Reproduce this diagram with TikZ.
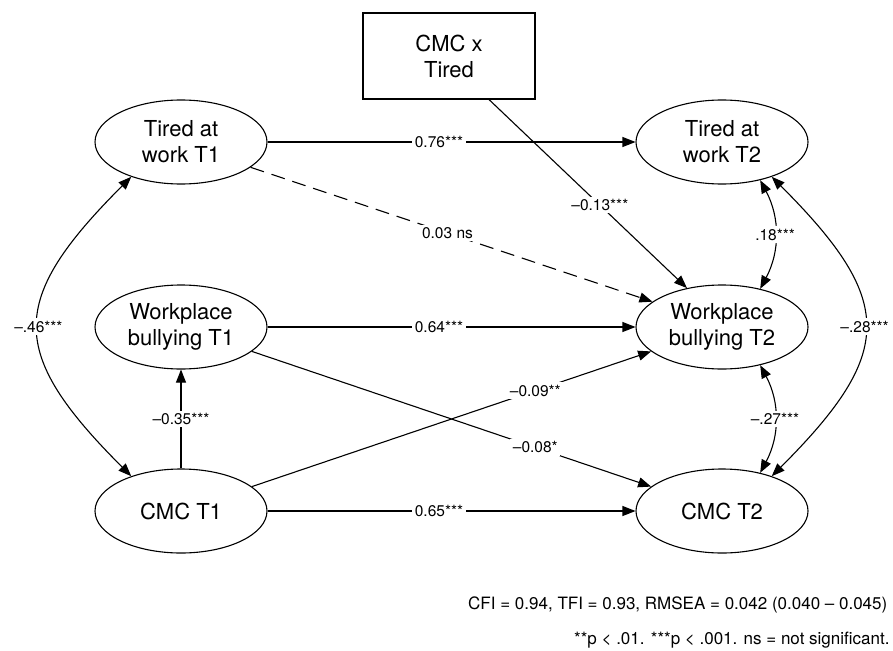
\documentclass[tikz,border=0pt]{standalone}
\usepackage{fontspec}
\setmainfont{TeX Gyre Heros}
\usetikzlibrary{shapes.geometric,arrows.meta}

\begin{document}
\begin{tikzpicture}[x=1pt, y=1pt,
    latent/.style={ellipse, draw, line width=1.1pt, minimum width=172pt, minimum height=84pt, inner sep=0pt, align=center, font=\fontsize{22}{26}\selectfont},
    observed/.style={rectangle, draw, line width=1.1pt, minimum width=172pt, minimum height=86pt, inner sep=0pt, align=center, font=\fontsize{22}{26}\selectfont},
    coef/.style={fill=white, inner sep=2.5pt, font=\fontsize{15.5}{18}\selectfont},
    path/.style={line width=1.1pt, -{Triangle[length=13pt,width=10pt]}},
    cov/.style={line width=1.1pt, {Triangle[length=13pt,width=10pt]}-{Triangle[length=13pt,width=10pt]}},
    note/.style={anchor=west, inner sep=0pt, font=\fontsize{17}{20}\selectfont}]
        \useasboundingbox (0, 0) rectangle (893, -650);
        \node (cmcx) at (449, -56) [observed] {CMC x\\Tired};
        \node (tw1) at (181, -142) [latent] {Tired at\\work T1};
        \node (tw2) at (722, -142) [latent] {Tired at\\work T2};
        \node (wb1) at (181, -327) [latent] {Workplace\\bullying T1};
        \node (wb2) at (722, -327) [latent] {Workplace\\bullying T2};
        \node (cmc1) at (181, -511) [latent] {CMC T1};
        \node (cmc2) at (722, -511) [latent] {CMC T2};
        % paths
        \draw [path] (tw1) edge node [coef, pos=0.466]{0.76***} (tw2);
        \draw [path] (wb1) edge node [coef, pos=0.466]{0.64***} (wb2);
        \draw [path] (cmc1) edge node [coef, pos=0.466]{0.65***} (cmc2);
        \draw [path, dash pattern=on 14pt off 8pt] (tw1.-20) -- node [coef, pos=0.49]{0.03 ns} (wb2.160);
        \draw [path] ([xshift=40pt]cmcx.south) -- node [coef, pos=0.56]{–0.13***} (wb2.132);
        \draw [path] (wb1.-19) -- node [coef, pos=0.71]{–0.08*} (cmc2.161);
        \draw [path] (cmc1.19) -- node [coef, pos=0.71]{–0.09**} (wb2.199);
        \draw [path] (cmc1) edge node [coef]{–0.35***} (wb1);
        % covariances
        \draw [cov] (tw1.215) to [out=225, in=135, looseness=1.5] node [coef]{–.46***} (cmc1.145);
        \draw [cov] (tw2.-35) to [out=-45, in=45, looseness=1.5] node [coef]{–.28***} (cmc2.35);
        \draw [cov] (tw2.-45) to [bend left=28] node [coef]{.18***} (wb2.45);
        \draw [cov] (wb2.-45) to [bend left=28] node [coef]{–.27***} (cmc2.45);
        % fit
        \node (fit) at (468, -605) [note] {CFI = 0.94, TFI = 0.93, RMSEA = 0.042 (0.040 – 0.045)};
        \node (sig) at (574, -640) [note] {**p < .01. ***p < .001. ns = not significant.};
    \end{tikzpicture}
\end{document}
